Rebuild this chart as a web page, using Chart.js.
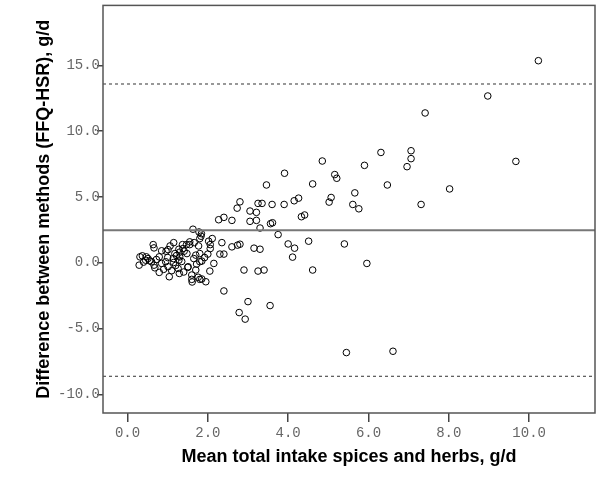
<!DOCTYPE html>
<html>
<head>
<meta charset="utf-8">
<script src="https://cdn.jsdelivr.net/npm/chart.js@4.4.1/dist/chart.umd.min.js"></script>
<style>
  html, body { margin: 0; padding: 0; background: #fff; }
</style>
</head>
<body>
<canvas id="plot" width="600" height="479"></canvas>
<script>
"use strict";

// mean of the two methods (g/d), one entry per subject
const MEAN_INTAKE = [
  10.23, 8.97, 7.41, 6.31, 7.06, 7.06, 6.96, 5.90, 9.67, 5.16,
  5.21, 6.47, 5.66, 8.02, 5.07, 5.02, 5.61, 5.76, 7.31, 5.40,
  3.55, 5.45, 6.61, 4.85, 3.91, 3.46, 4.61, 2.80, 2.73, 3.25,
  3.35, 3.60, 3.90, 4.15, 4.26, 3.05, 3.21, 2.27, 2.40, 2.60,
  3.05, 3.21, 3.30, 3.56, 3.61, 4.33, 4.41, 3.75, 2.35, 2.11,
  2.60, 2.74, 2.80, 3.15, 3.30, 4.00, 4.16, 4.51, 4.11, 2.00,
  2.30, 2.40, 2.15, 2.05, 1.85, 1.80, 1.95, 2.90, 3.25, 3.40,
  4.61, 5.96, 2.40, 3.00, 2.78, 2.93, 1.63, 1.78, 1.84, 1.83,
  1.80, 2.02, 2.06, 2.06, 1.66, 1.55, 1.77, 1.37, 1.28, 1.30,
  1.15, 0.64, 0.66, 0.85, 0.96, 1.06, 1.01, 1.18, 1.41, 1.48,
  1.30, 1.28, 1.80, 1.70, 1.92, 1.80, 1.70, 1.50, 1.60, 1.60,
  1.61, 1.85, 0.29, 0.31, 0.37, 0.47, 0.51, 0.60, 0.66, 0.68,
  0.79, 0.79, 0.85, 0.95, 1.01, 1.04, 1.14, 1.15, 1.26, 1.29,
  1.38, 1.22, 1.51, 1.47, 1.55, 1.65, 1.72, 1.76, 0.45, 0.55,
  0.72, 0.90, 1.10, 1.20, 1.40, 1.35, 0.40, 1.00
];

// FFQ minus HSR (g/d), same order
const DIFFERENCE = [
  15.35, 12.67, 11.38, 8.38, 8.51, 7.91, 7.30, 7.40, 7.70, 6.70,
  6.42, 5.91, 5.31, 5.61, 4.96, 4.61, 4.43, 4.10, 4.43, 1.43,
  -3.25, -6.82, -6.72, 7.73, 6.80, 5.91, 5.99, 4.63, 4.15, 4.51,
  4.51, 4.43, 4.43, 4.71, 4.91, 3.93, 3.83, 3.27, 3.45, 3.22,
  3.15, 3.22, 2.64, 2.97, 3.04, 3.50, 3.63, 2.14, 1.53, 1.84,
  1.21, 1.34, 1.41, 1.11, 1.03, 1.43, 1.11, 1.64, 0.43, 0.66,
  0.66, 0.66, -0.05, -0.63, 0.13, -1.26, -1.44, -0.55, -0.63, -0.55,
  -0.55, -0.05, -2.14, -2.95, -3.78, -4.28, 2.55, 2.34, 2.21, 2.02,
  1.84, 1.64, 1.38, 1.08, 1.53, 1.38, 1.28, 1.38, 1.03, 0.81,
  1.53, 1.38, 1.13, 0.91, 0.88, 1.28, 1.00, 0.70, 0.88, 0.70,
  0.45, 0.20, 0.70, 0.58, 0.40, 0.08, -0.55, -0.35, -0.93, -1.26,
  -1.46, -1.23, -0.18, 0.45, 0.53, 0.45, 0.32, 0.08, -0.18, -0.38,
  0.45, -0.73, -0.05, 0.08, -0.30, -1.06, 0.32, 0.02, -0.43, -0.81,
  1.08, 0.55, -0.30, 1.38, 1.59, 0.32, -0.10, -1.10, 0.20, 0.15,
  0.25, -0.50, -0.60, -0.20, -0.70, 0.10, 0.05, 0.40
];

const MEAN_DIFF = 2.48;
const LIMITS = [13.58, -8.62];

const X_TICKS = [0, 2, 4, 6, 8, 10];
const Y_TICKS = [-10, -5, 0, 5, 10, 15];
const X_RANGE = [-0.61, 11.64];
const Y_RANGE = [-11.41, 19.55];

const TICK_FONT = {family: "Liberation Mono", size: 14};
const TITLE_FONT = {family: "Liberation Sans", size: 18, weight: "bold"};

function hLine(y) {
  return [{x: X_RANGE[0], y: y}, {x: X_RANGE[1], y: y}];
}

const frame = {
  id: "frame",
  afterDatasetsDraw(chart) {
    const a = chart.chartArea;
    const ctx = chart.ctx;
    ctx.save();
    ctx.strokeStyle = "#555";
    ctx.lineWidth = 1.5;
    ctx.strokeRect(a.left, a.top, a.right - a.left, a.bottom - a.top);
    ctx.restore();
  }
};

function makeChart() {
  const points = MEAN_INTAKE.map((x, i) => ({x: x, y: DIFFERENCE[i]}));
  const datasets = [{
    type: "line",
    data: hLine(MEAN_DIFF),
    borderColor: "#777",
    borderWidth: 2,
    pointRadius: 0
  }];
  for (const lim of LIMITS) {
    datasets.push({
      type: "line",
      data: hLine(lim),
      borderColor: "#333",
      borderWidth: 1,
      borderDash: [3, 3],
      pointRadius: 0
    });
  }
  datasets.push({
    type: "scatter",
    data: points,
    pointRadius: 3.3,
    pointBorderWidth: 1,
    pointBorderColor: "#000",
    pointBackgroundColor: "rgba(0,0,0,0)"
  });

  const ctx = document.getElementById("plot").getContext("2d");
  new Chart(ctx, {
    type: "scatter",
    data: {datasets: datasets},
    plugins: [frame],
    options: {
      responsive: false,
      animation: false,
      layout: {padding: {top: 3, right: 5, left: 0, bottom: 0}},
      plugins: {legend: {display: false}, tooltip: {enabled: false}},
      scales: {
        x: {
          type: "linear",
          min: X_RANGE[0],
          max: X_RANGE[1],
          afterBuildTicks: s => { s.ticks = X_TICKS.map(v => ({value: v})); },
          afterFit: s => { s.height = 66; },
          border: {display: false},
          grid: {drawOnChartArea: false, drawTicks: true, tickLength: 9,
                 color: "#444", lineWidth: 1.5},
          ticks: {font: TICK_FONT, color: "#666", padding: 3,
                  maxRotation: 0, callback: v => v.toFixed(1)},
          title: {display: true, text: "Mean total intake spices and herbs, g/d",
                  font: TITLE_FONT, color: "#000", padding: {top: 0, bottom: 11}}
        },
        y: {
          type: "linear",
          min: Y_RANGE[0],
          max: Y_RANGE[1],
          afterBuildTicks: s => { s.ticks = Y_TICKS.map(v => ({value: v})); },
          afterFit: s => { s.width = 103; },
          border: {display: false},
          grid: {drawOnChartArea: false, drawTicks: true, tickLength: 6,
                 color: "#444", lineWidth: 1.5},
          ticks: {font: TICK_FONT, color: "#666", padding: -3,
                  callback: v => v.toFixed(1)},
          title: {display: true, text: "Difference between methods (FFQ-HSR), g/d",
                  font: TITLE_FONT, color: "#000", padding: {top: 33, bottom: 0}}
        }
      }
    }
  });
}

window.addEventListener("load", makeChart);
</script>
</body>
</html>
